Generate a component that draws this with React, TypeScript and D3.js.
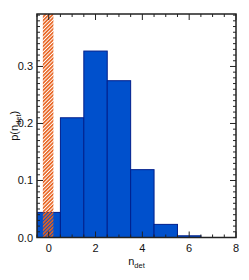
import React from "react";
import * as d3 from "d3";

const binCenters = [0, 1, 2, 3, 4, 5, 6];
const binValues = [0.044, 0.21, 0.327, 0.275, 0.119, 0.023, 0.003];
const xTicks = [0, 2, 4, 6, 8];
const yTicks = [0.0, 0.1, 0.2, 0.3];
const hatchRange = [-0.25, 0.2];

const W = 249, H = 280;
const m = { left: 37, right: 13, top: 14, bottom: 42.5 };

export default function App() {
  const x = d3.scaleLinear().domain([-0.5, 8]).range([m.left, W - m.right]);
  const y = d3.scaleLinear().domain([0, 0.392]).range([H - m.bottom, m.top]);
  const x0 = m.left, x1 = W - m.right, y0 = H - m.bottom, y1 = m.top;
  const xMinor = d3.range(-0.5, 8.001, 0.5);
  const yMinor = d3.range(0, 0.3901, 0.01);
  const font = "Liberation Sans, Arial, sans-serif";
  const axisColor = "#222";
  return (
    <svg width={W} height={H} style={{ position: "absolute", left: 0, top: 0, background: "#fff" }}>
      <defs>
        <pattern id="hatch" width="2.6" height="2.6" patternUnits="userSpaceOnUse" patternTransform="rotate(45)">
          <rect x="0" y="0" width="1.6" height="2.6" fill="#e8601c" />
        </pattern>
        <clipPath id="plot">
          <rect x={x0} y={y1} width={x1 - x0} height={y0 - y1} />
        </clipPath>
      </defs>
      <g clipPath="url(#plot)">
        {binCenters.map((c, i) => (
          <rect key={i} x={x(c - 0.5)} y={y(binValues[i])} width={x(c + 0.5) - x(c - 0.5)}
            height={y(0) - y(binValues[i])} fill="#0050cc" stroke="#001f8c" strokeWidth={1} />
        ))}
        <rect x={x(hatchRange[0])} y={y1} width={x(hatchRange[1]) - x(hatchRange[0])} height={y0 - y1} fill="url(#hatch)" />
      </g>
      <g stroke={axisColor} strokeWidth={1}>
        {xMinor.map((t, i) => {
          const major = Math.abs(t % 2) < 1e-6;
          const len = major ? 6 : 3;
          return (
            <g key={i}>
              <line x1={x(t)} x2={x(t)} y1={y0} y2={y0 - len} />
              <line x1={x(t)} x2={x(t)} y1={y1} y2={y1 + len} />
            </g>
          );
        })}
        {yMinor.map((t, i) => {
          const major = i % 10 === 0;
          const len = major ? 6 : 3;
          return (
            <g key={i}>
              <line x1={x0} x2={x0 + len} y1={y(t)} y2={y(t)} />
              <line x1={x1} x2={x1 - len} y1={y(t)} y2={y(t)} />
            </g>
          );
        })}
      </g>
      <rect x={x0} y={y1} width={x1 - x0} height={y0 - y1} fill="none" stroke={axisColor} strokeWidth={1.5} />
      <g fontFamily={font} fontSize={11} fill="#111">
        {xTicks.map((t) => (
          <text key={t} x={x(t)} y={y0 + 14} textAnchor="middle">{t}</text>
        ))}
        {yTicks.map((t) => (
          <text key={t} x={x0 - 4} y={y(t) + 4} textAnchor="end">{t.toFixed(1)}</text>
        ))}
        <text x={(x0 + x1) / 2} y={y0 + 27} textAnchor="middle">
          n<tspan fontSize={7.5} dy={3}>det</tspan>
        </text>
        <text transform={`translate(18, ${(y0 + y1) / 2}) rotate(-90)`} textAnchor="middle">
          p(n<tspan fontSize={7.5} dy={3}>det</tspan><tspan dy={-3}>)</tspan>
        </text>
      </g>
    </svg>
  );
}
